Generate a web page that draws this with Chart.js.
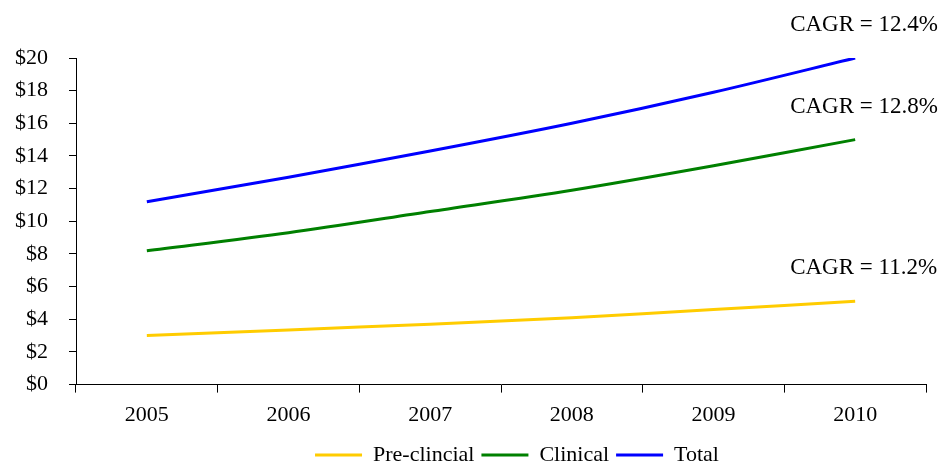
<!DOCTYPE html>
<html>
<head>
<meta charset="utf-8">
<script src="https://cdn.jsdelivr.net/npm/chart.js@4/dist/chart.umd.min.js"></script>
<style>
  html, body { margin: 0; padding: 0; background: #fff; }
  #wrap { width: 946px; height: 465px; }
</style>
</head>
<body>
<div id="wrap"><canvas id="myChart"></canvas></div>
<script>
// datos
const years = ["2005", "2006", "2007", "2008", "2009", "2010"];
const preClinical = [3.0, 3.35, 3.7, 4.1, 4.6, 5.1];
const clinical = [8.2, 9.3, 10.6, 11.9, 13.4, 15.0];
const total = [11.2, 12.7, 14.3, 16.0, 17.9, 20.0];
const cagrLabels = ["CAGR = 11.2%", "CAGR = 12.8%", "CAGR = 12.4%"];
const yTicks = [0, 2, 4, 6, 8, 10, 12, 14, 16, 18, 20];

const serif = "'Liberation Serif', 'Times New Roman', serif";

// etiquetas CAGR sobre el ultimo punto de cada serie
const cagrPlugin = {
  id: "cagr",
  afterLayout(chart) {
    // la leyenda original esta un poco a la derecha del centro
    chart.legend.left += 16;
    chart.legend.right += 16;
  },
  afterDatasetsDraw(chart) {
    const ctx = chart.ctx;
    ctx.save();
    ctx.font = "23px " + serif;
    ctx.fillStyle = "#000";
    ctx.textBaseline = "middle";
    ctx.textAlign = "left";
    chart.data.datasets.forEach((ds, i) => {
      const meta = chart.getDatasetMeta(i);
      const last = meta.data[meta.data.length - 1];
      ctx.fillText(cagrLabels[i], last.x - 65, last.y - 33);
    });
    ctx.restore();
  }
};

const makeSet = (label, data, color) => ({
  label: label,
  data: data,
  borderColor: color,
  backgroundColor: color,
  borderWidth: 3,
  pointRadius: 0,
  tension: 0.3,
  fill: false
});

const ctx = document.getElementById("myChart");
const myChart = new Chart(ctx, {
  type: "line",
  data: {
    labels: years,
    datasets: [
      makeSet("Pre-clincial", preClinical, "#FFCC00"),
      makeSet("Clinical", clinical, "#008000"),
      makeSet("Total", total, "#0000FF")
    ]
  },
  options: {
    responsive: true,
    maintainAspectRatio: false,
    animation: false,
    layout: { padding: { top: 58, right: 20, left: -6, bottom: -3 } },
    plugins: {
      tooltip: { enabled: false },
      legend: {
        position: "bottom",
        fullSize: false,
        maxHeight: 31,
        labels: {
          usePointStyle: true,
          pointStyle: "line",
          pointStyleWidth: 47,
          color: "#000",
          padding: 7,
          font: { family: serif, size: 22 }
        }
      }
    },
    scales: {
      x: {
        offset: true,
        border: { color: "#000", width: 1 },
        grid: { display: true, drawOnChartArea: false, offset: true, color: "#000", tickLength: 8 },
        ticks: { color: "#000", font: { family: serif, size: 22 }, padding: 9 }
      },
      y: {
        min: 0,
        max: 20,
        afterBuildTicks: (axis) => { axis.ticks = yTicks.map((v) => ({ value: v })); },
        border: { color: "#000", width: 1 },
        grid: { display: true, drawOnChartArea: false, color: "#000", tickLength: 7 },
        ticks: {
          color: "#000",
          font: { family: serif, size: 22 },
          padding: 21,
          callback: (v) => "$" + v
        }
      }
    }
  },
  plugins: [cagrPlugin]
});
</script>
</body>
</html>
